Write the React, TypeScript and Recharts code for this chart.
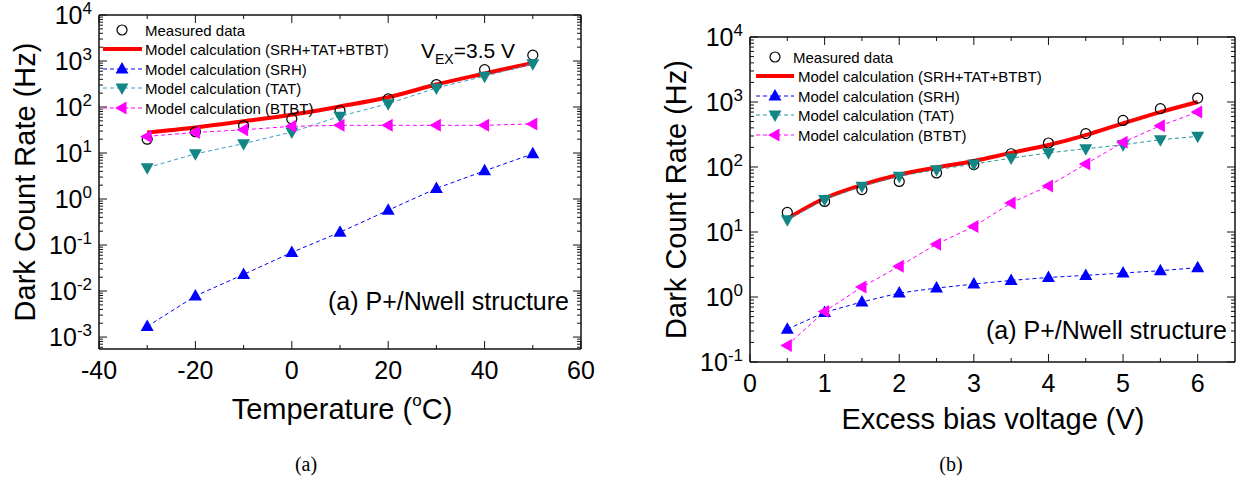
import React from 'react';
import { ComposedChart, Line, XAxis, YAxis } from 'recharts';

// ---------- Data: panel (a) dark count rate vs temperature ----------
const TEMPERATURES = [-30, -20, -10, 0, 10, 20, 30, 40, 50];
const T_MEASURED = [20, 29, 39, 55, 83, 150, 308, 650, 1340];
const T_TOTAL = [28, 36, 49, 68, 103, 163, 308, 535, 910];
const T_SRH = [0.0017, 0.0078, 0.023, 0.069, 0.19, 0.57, 1.7, 4.1, 9.6];
const T_TAT = [4.8, 9.6, 16, 28.5, 63, 118, 260, 466, 870];
const T_BTBT = [23, 28, 32, 38, 40, 40, 40, 40, 43];

// ---------- Data: panel (b) dark count rate vs excess bias ----------
const VOLTAGES = [0.5, 1, 1.5, 2, 2.5, 3, 3.5, 4, 4.5, 5, 5.5, 6];
const V_MEASURED = [20, 29.5, 45, 60, 81, 109, 160, 234, 326, 520, 790, 1150];
const V_TOTAL = [16, 33, 53, 76, 98, 124, 165, 218, 310, 470, 700, 1000];
const V_SRH = [0.32, 0.58, 0.84, 1.15, 1.37, 1.58, 1.8, 2.0, 2.15, 2.34, 2.54, 2.83];
const V_TAT = [15.5, 31.5, 50.5, 72, 91, 111, 137, 165, 191, 220, 263, 296];
const V_BTBT = [0.18, 0.6, 1.42, 2.96, 6.5, 12.2, 28, 51, 111, 240, 432, 700];

// ---------- Axis ticks ----------
const T_X_TICKS = [-40, -30, -20, -10, 0, 10, 20, 30, 40, 50, 60];
const T_X_MAJOR_STEP = 20;
const V_X_TICKS = [0, 0.5, 1, 1.5, 2, 2.5, 3, 3.5, 4, 4.5, 5, 5.5, 6];
const V_X_MAJOR_STEP = 1;
const T_Y_DOMAIN: [number, number] = [5.5e-4, 1e4];
const V_Y_DOMAIN: [number, number] = [0.1, 1e4];

const LEGEND_LABELS = [
  'Measured data',
  'Model calculation (SRH+TAT+BTBT)',
  'Model calculation (SRH)',
  'Model calculation (TAT)',
  'Model calculation (BTBT)',
];

const SANS = '"Liberation Sans", Arial, Helvetica, sans-serif';
const SERIF = '"Liberation Serif", "DejaVu Serif", serif';
const AX = '#111';
const RED = '#FF0000';
const BLUE = '#0000FF';
const TEAL = '#138585';
const MAGENTA = '#FF00FF';

function logTicks(min: number, max: number): number[] {
  const out: number[] = [];
  const e0 = Math.floor(Math.log10(min));
  const e1 = Math.ceil(Math.log10(max));
  for (let e = e0; e <= e1; e++) {
    for (let m = 1; m <= 9; m++) {
      const v = m * Math.pow(10, e);
      if (v >= min * 0.9999 && v <= max * 1.0001) out.push(v);
    }
  }
  return out;
}

const isMajorLog = (v: number) => Math.abs(Math.log10(v) - Math.round(Math.log10(v))) < 1e-6;
const isMajorLin = (v: number, step: number) => Math.abs(v / step - Math.round(v / step)) < 1e-6;

const makeLeftYTick = (gap: number) => (props: any) => {
  const { x, y, payload } = props;
  const v = payload.value;
  const major = isMajorLog(v);
  const e = Math.round(Math.log10(v));
  return (
    <g>
      <line x1={x} x2={x + (major ? 8 : 4)} y1={y} y2={y} stroke={AX} strokeWidth={1} />
      {major && (
        <text x={x - gap} y={y + 9} textAnchor="end" fontSize={25} fontFamily={SANS} fill="#000">
          10<tspan dy={-10} fontSize={17}>{String(e)}</tspan>
        </text>
      )}
    </g>
  );
};

const RightYTick = (props: any) => {
  const { x, y, payload } = props;
  const major = isMajorLog(payload.value);
  return <line x1={x} x2={x - (major ? 8 : 4)} y1={y} y2={y} stroke={AX} strokeWidth={1} />;
};

const makeBottomXTick = (step: number) => (props: any) => {
  const { x, y, payload } = props;
  const v = payload.value;
  const major = isMajorLin(v, step);
  return (
    <g>
      <line x1={x} x2={x} y1={y} y2={y - (major ? 8 : 4)} stroke={AX} strokeWidth={1} />
      {major && (
        <text x={x} y={y + 30} textAnchor="middle" fontSize={25} fontFamily={SANS} fill="#000">
          {String(v)}
        </text>
      )}
    </g>
  );
};

const makeTopXTick = (step: number) => (props: any) => {
  const { x, y, payload } = props;
  const major = isMajorLin(payload.value, step);
  return <line x1={x} x2={x} y1={y} y2={y + (major ? 8 : 4)} stroke={AX} strokeWidth={1} />;
};

// ---------- Markers ----------
const OpenCircle = (p: any) =>
  p.cx == null ? <g key={p.index} /> : (
    <circle key={p.index} cx={p.cx} cy={p.cy} r={5} fill="none" stroke="#000" strokeWidth={1.2} />
  );
const TriUp = (p: any) =>
  p.cx == null ? <g key={p.index} /> : (
    <polygon key={p.index} points={`${p.cx},${p.cy - 7} ${p.cx + 6.5},${p.cy + 4.5} ${p.cx - 6.5},${p.cy + 4.5}`} fill={BLUE} />
  );
const TriDown = (p: any) =>
  p.cx == null ? <g key={p.index} /> : (
    <polygon key={p.index} points={`${p.cx},${p.cy + 7} ${p.cx + 6.5},${p.cy - 4.5} ${p.cx - 6.5},${p.cy - 4.5}`} fill={TEAL} />
  );
const TriLeft = (p: any) =>
  p.cx == null ? <g key={p.index} /> : (
    <polygon key={p.index} points={`${p.cx - 7},${p.cy} ${p.cx + 4.5},${p.cy - 6.5} ${p.cx + 4.5},${p.cy + 6.5}`} fill={MAGENTA} />
  );

type Row = { x: number; measured: number; total: number; srh: number; tat: number; btbt: number };

const buildRows = (xs: number[], m: number[], t: number[], s: number[], ta: number[], b: number[]): Row[] =>
  xs.map((x, i) => ({ x, measured: m[i], total: t[i], srh: s[i], tat: ta[i], btbt: b[i] }));

const TEMP_ROWS = buildRows(TEMPERATURES, T_MEASURED, T_TOTAL, T_SRH, T_TAT, T_BTBT);
const VOLT_ROWS = buildRows(VOLTAGES, V_MEASURED, V_TOTAL, V_SRH, V_TAT, V_BTBT);

type PanelProps = {
  rows: Row[];
  left: number;
  width: number;
  margin: { top: number; right: number; bottom: number; left: number };
  yAxisWidth: number;
  xDomain: [number, number];
  xTicks: number[];
  xStep: number;
  yDomain: [number, number];
  tatLine: string;
};

function Panel(p: PanelProps) {
  const yTicks = logTicks(p.yDomain[0], p.yDomain[1]);
  const axisLine = { stroke: AX, strokeWidth: 1.5 };
  return (
    <div style={{ position: 'absolute', left: p.left, top: 0 }}>
      <ComposedChart width={p.width} height={482} data={p.rows} margin={p.margin}>
        <XAxis
          xAxisId="b"
          dataKey="x"
          type="number"
          domain={p.xDomain}
          allowDataOverflow
          ticks={p.xTicks}
          interval={0}
          height={30}
          tickSize={0}
          tickMargin={0}
          tickLine={false}
          axisLine={axisLine}
          tick={makeBottomXTick(p.xStep)}
        />
        <XAxis
          xAxisId="t"
          orientation="top"
          dataKey="x"
          type="number"
          domain={p.xDomain}
          allowDataOverflow
          ticks={p.xTicks}
          interval={0}
          height={10}
          tickSize={0}
          tickMargin={0}
          tickLine={false}
          axisLine={axisLine}
          tick={makeTopXTick(p.xStep)}
        />
        <YAxis
          yAxisId="l"
          type="number"
          scale="log"
          domain={p.yDomain}
          allowDataOverflow
          ticks={yTicks}
          interval={0}
          width={p.yAxisWidth}
          tickSize={0}
          tickMargin={0}
          tickLine={false}
          axisLine={axisLine}
          tick={makeLeftYTick(7)}
        />
        <YAxis
          yAxisId="r"
          orientation="right"
          type="number"
          scale="log"
          domain={p.yDomain}
          allowDataOverflow
          ticks={yTicks}
          interval={0}
          width={4}
          tickSize={0}
          tickMargin={0}
          tickLine={false}
          axisLine={axisLine}
          tick={RightYTick}
        />
        <Line xAxisId="b" yAxisId="l" dataKey="measured" stroke="none" dot={OpenCircle} activeDot={false} isAnimationActive={false} />
        <Line xAxisId="b" yAxisId="l" type="monotone" dataKey="total" stroke={RED} strokeWidth={4} dot={false} activeDot={false} isAnimationActive={false} />
        <Line xAxisId="b" yAxisId="l" dataKey="srh" stroke={BLUE} strokeWidth={1} strokeDasharray="4 3" dot={TriUp} activeDot={false} isAnimationActive={false} />
        <Line xAxisId="b" yAxisId="l" dataKey="tat" stroke={p.tatLine} strokeWidth={1} strokeDasharray="4 3" dot={TriDown} activeDot={false} isAnimationActive={false} />
        <Line xAxisId="b" yAxisId="l" dataKey="btbt" stroke={MAGENTA} strokeWidth={1} strokeDasharray="4 3" dot={TriLeft} activeDot={false} isAnimationActive={false} />
      </ComposedChart>
    </div>
  );
}

function LegendBlock(props: { rows: number[]; x0: number; x1: number; mx: number; tx: number; txFirst: number; tatLine: string }) {
  const { rows, x0, x1, mx, tx, txFirst, tatLine } = props;
  const dash = '4 3';
  return (
    <g fontFamily={SANS} fontSize={15} fill="#000">
      <circle cx={mx} cy={rows[0]} r={5} fill="none" stroke="#000" strokeWidth={1.2} />
      <text x={txFirst} y={rows[0] + 5.5}>{LEGEND_LABELS[0]}</text>

      <line x1={x0} x2={x1} y1={rows[1]} y2={rows[1]} stroke={RED} strokeWidth={4} />
      <text x={tx} y={rows[1] + 5.5}>{LEGEND_LABELS[1]}</text>

      <line x1={x0} x2={x1} y1={rows[2]} y2={rows[2]} stroke={BLUE} strokeWidth={1} strokeDasharray={dash} />
      <TriUp cx={mx} cy={rows[2]} index="l2" />
      <text x={tx} y={rows[2] + 5.5}>{LEGEND_LABELS[2]}</text>

      <line x1={x0} x2={x1} y1={rows[3]} y2={rows[3]} stroke={tatLine} strokeWidth={1} strokeDasharray={dash} />
      <TriDown cx={mx} cy={rows[3]} index="l3" />
      <text x={tx} y={rows[3] + 5.5}>{LEGEND_LABELS[3]}</text>

      <line x1={x0} x2={x1} y1={rows[4]} y2={rows[4]} stroke={MAGENTA} strokeWidth={1} strokeDasharray={dash} />
      <TriLeft cx={mx} cy={rows[4]} index="l4" />
      <text x={tx} y={rows[4] + 5.5}>{LEGEND_LABELS[4]}</text>
    </g>
  );
}

export default function App() {
  return (
    <div style={{ position: 'absolute', left: 0, top: 0, width: 1241, height: 482, background: '#fff', overflow: 'hidden' }}>
      <Panel
        rows={TEMP_ROWS}
        left={0}
        width={620}
        margin={{ top: 5, right: 35, bottom: 103, left: 0 }}
        yAxisWidth={99}
        xDomain={[-40, 60]}
        xTicks={T_X_TICKS}
        xStep={T_X_MAJOR_STEP}
        yDomain={T_Y_DOMAIN}
        tatLine="#3A9CC6"
      />
      <Panel
        rows={VOLT_ROWS}
        left={616}
        width={625}
        margin={{ top: 27, right: 2, bottom: 90, left: 0 }}
        yAxisWidth={134}
        xDomain={[0, 6.5]}
        xTicks={V_X_TICKS}
        xStep={V_X_MAJOR_STEP}
        yDomain={V_Y_DOMAIN}
        tatLine="#2A9696"
      />
      <svg width={1241} height={482} style={{ position: 'absolute', left: 0, top: 0, pointerEvents: 'none' }}>
        <LegendBlock rows={[30, 49, 69, 88, 108]} x0={103} x1={142} mx={122} tx={145} txFirst={145} tatLine="#3A9CC6" />
        <LegendBlock rows={[57, 76, 96, 115, 135]} x0={756} x1={794} mx={775} tx={798} txFirst={793} tatLine="#2A9696" />

        <text x={421} y={58} fontFamily={SANS} fontSize={21} fill="#000">
          V<tspan fontSize={14} dy={6}>EX</tspan><tspan dy={-6}>=3.5 V</tspan>
        </text>
        <text x={569} y={310} textAnchor="end" fontFamily={SANS} fontSize={25} fill="#000">(a) P+/Nwell structure</text>
        <text x={1227} y={339} textAnchor="end" fontFamily={SANS} fontSize={25} fill="#000">(a) P+/Nwell structure</text>

        <text transform="rotate(-90)" x={-182} y={35} textAnchor="middle" fontFamily={SANS} fontSize={29} fill="#000">Dark Count Rate (Hz)</text>
        <text transform="rotate(-90)" x={-199.5} y={686} textAnchor="middle" fontFamily={SANS} fontSize={29} fill="#000">Dark Count Rate (Hz)</text>

        <text x={342} y={419} textAnchor="middle" fontFamily={SANS} fontSize={29} fill="#000">
          Temperature (<tspan fontSize={17} dy={-13}>o</tspan><tspan dy={13}>C)</tspan>
        </text>
        <text x={993} y={429} textAnchor="middle" fontFamily={SANS} fontSize={29} fill="#000">Excess bias voltage (V)</text>

        <text x={306} y={471} textAnchor="middle" fontFamily={SERIF} fontSize={20} fill="#000">(a)</text>
        <text x={951} y={471} textAnchor="middle" fontFamily={SERIF} fontSize={20} fill="#000">(b)</text>
      </svg>
    </div>
  );
}
